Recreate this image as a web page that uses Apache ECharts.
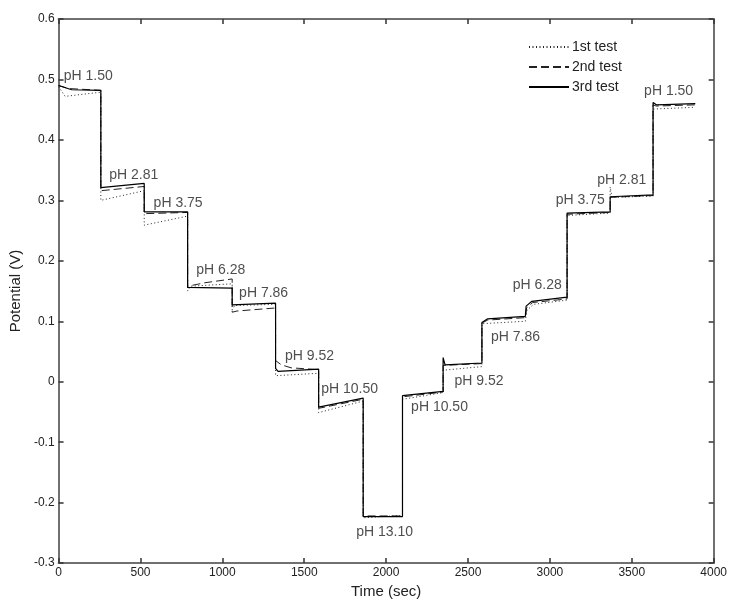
<!DOCTYPE html>
<html>
<head>
<meta charset="utf-8">
<script src="https://cdn.jsdelivr.net/npm/echarts@6/dist/echarts.min.js"></script>
<style>
html,body{margin:0;padding:0;background:#fff;}
#chart{width:730px;height:604px;}
</style>
</head>
<body>
<div id="chart"></div>
<script>
// Series: [time (sec), potential (V)]
const test1 = [
  [0,0.488],[40,0.472],[258,0.479],
  [258,0.300],[523,0.316],
  [523,0.259],[788,0.274],
  [788,0.150],[805,0.158],[1060,0.162],
  [1060,0.119],[1075,0.126],[1325,0.128],
  [1325,0.010],[1588,0.014],
  [1588,-0.051],[1860,-0.032],
  [1860,-0.225],[2100,-0.221],
  [2100,-0.029],[2348,-0.018],
  [2348,0.019],[2585,0.025],
  [2585,0.096],[2850,0.100],
  [2860,0.118],[2900,0.128],[3105,0.135],
  [3105,0.275],[3368,0.279],
  [3368,0.322],[3380,0.305],[3630,0.307],
  [3630,0.451],[3888,0.454]
];
const test2 = [
  [0,0.490],[60,0.485],[258,0.482],
  [258,0.316],[523,0.323],
  [523,0.278],[788,0.280],
  [788,0.158],[900,0.164],[1060,0.170],
  [1060,0.115],[1090,0.117],[1325,0.122],
  [1325,0.035],[1360,0.028],[1420,0.023],[1588,0.020],
  [1588,-0.044],[1860,-0.029],
  [1860,-0.222],[2100,-0.222],
  [2100,-0.025],[2348,-0.017],
  [2348,0.027],[2585,0.030],
  [2585,0.097],[2620,0.102],[2850,0.106],
  [2858,0.122],[2895,0.131],[3105,0.137],
  [3105,0.277],[3368,0.280],
  [3368,0.305],[3630,0.308],
  [3630,0.458],[3650,0.456],[3888,0.458]
];
const test3 = [
  [0,0.490],[80,0.483],[258,0.482],
  [258,0.321],[523,0.328],
  [523,0.281],[788,0.281],
  [788,0.156],[1060,0.155],
  [1060,0.127],[1325,0.130],
  [1325,0.022],[1340,0.017],[1588,0.021],
  [1588,-0.042],[1860,-0.027],
  [1860,-0.223],[2100,-0.223],
  [2100,-0.023],[2348,-0.016],
  [2348,0.040],[2360,0.028],[2585,0.031],
  [2585,0.098],[2620,0.104],[2850,0.108],
  [2855,0.125],[2890,0.133],[3105,0.140],
  [3105,0.279],[3368,0.281],
  [3368,0.306],[3630,0.309],
  [3630,0.462],[3650,0.458],[3888,0.460]
];
const seriesNames = ['1st test','2nd test','3rd test'];

// Annotation labels (centre positions in data units)
const labelTexts  = ['pH 1.50','pH 2.81','pH 3.75','pH 6.28','pH 7.86','pH 9.52','pH 10.50','pH 13.10','pH 10.50','pH 9.52','pH 7.86','pH 6.28','pH 3.75','pH 2.81','pH 1.50'];
const labelTimes  = [181,459,730,990,1252,1532,1777,1991,2326,2567,2790,2923,3185,3439,3725];
const labelValues = [0.505,0.342,0.296,0.184,0.147,0.042,-0.013,-0.249,-0.042,0.0005,0.074,0.160,0.300,0.334,0.480];

const xTicks = {min:0, max:4000, interval:500};
const yTicks = {min:-0.3, max:0.6, interval:0.1};

const FONT = '"Liberation Sans", Arial, sans-serif';
const AX = '#707070';

const chart = echarts.init(document.getElementById('chart'), null, {renderer:'canvas'});

function xAxisBase(pos, showLabel){
  return {
    type:'value', position:pos, min:xTicks.min, max:xTicks.max, interval:xTicks.interval,
    axisLine:{show:true, onZero:false, lineStyle:{color:AX, width:2}},
    axisTick:{show:true, inside:true, length:5, lineStyle:{color:'#333', width:1.5}},
    axisLabel:{show:showLabel, color:'#222', fontFamily:FONT, fontSize:12, margin:4,
      formatter:function(v){ return String(Math.round(v)); }},
    splitLine:{show:false}
  };
}
function yAxisBase(pos, showLabel){
  return {
    type:'value', position:pos, min:yTicks.min, max:yTicks.max, interval:yTicks.interval,
    axisLine:{show:true, onZero:false, lineStyle:{color:AX, width:2}},
    axisTick:{show:true, inside:true, length:5, lineStyle:{color:'#333', width:1.5}},
    axisLabel:{show:showLabel, color:'#222', fontFamily:FONT, fontSize:12, margin:4,
      formatter:function(v){ return (Math.round(v*10)/10).toString(); }},
    splitLine:{show:false}
  };
}

const xMain = Object.assign(xAxisBase('bottom', true), {
  name:'Time (sec)', nameLocation:'middle', nameGap:20,
  nameTextStyle:{color:'#222', fontFamily:FONT, fontSize:15}
});
const yMain = Object.assign(yAxisBase('left', true), {
  name:'Potential (V)', nameLocation:'middle', nameGap:33,
  nameTextStyle:{color:'#222', fontFamily:FONT, fontSize:15}
});

const lineStyles = [
  {color:'#222', width:1, type:[1,2.5]},
  {color:'#222', width:1, type:[8,4]},
  {color:'#000', width:1.2, type:'solid'}
];
const datasets = [test1, test2, test3];

const series = datasets.map((d,i)=>({
  name: seriesNames[i], type:'line', data:d, xAxisIndex:0, yAxisIndex:0,
  showSymbol:false, symbol:'none', lineStyle:lineStyles[i],
  itemStyle:{color:'#000', opacity:0},
  animation:false, z:3+i
}));

series.push({
  name:'labels', type:'scatter', silent:true, animation:false,
  symbolSize:0,
  data: labelTexts.map((t,i)=>({value:[labelTimes[i], labelValues[i]], name:t})),
  label:{show:true, position:'inside', formatter:p=>p.name, color:'#222',
    fontFamily:FONT, fontSize:14},
  z:10
});

chart.setOption({
  backgroundColor:'#fff',
  animation:false,
  grid:{left:56, right:11, top:19, bottom:37, containLabel:false},
  xAxis:[xMain, xAxisBase('top', false)],
  yAxis:[yMain, yAxisBase('right', false)],
  legend:{
    data: seriesNames.map(n=>({name:n})),
    orient:'vertical', left:528, top:40, padding:0,
    itemWidth:40, itemHeight:14, itemGap:6,
    itemStyle:{opacity:0, borderWidth:0},
    textStyle:{color:'#222', fontFamily:FONT, fontSize:14, padding:[0,0,0,-2]},
    selectedMode:false
  },
  series: series
});
</script>
</body>
</html>
